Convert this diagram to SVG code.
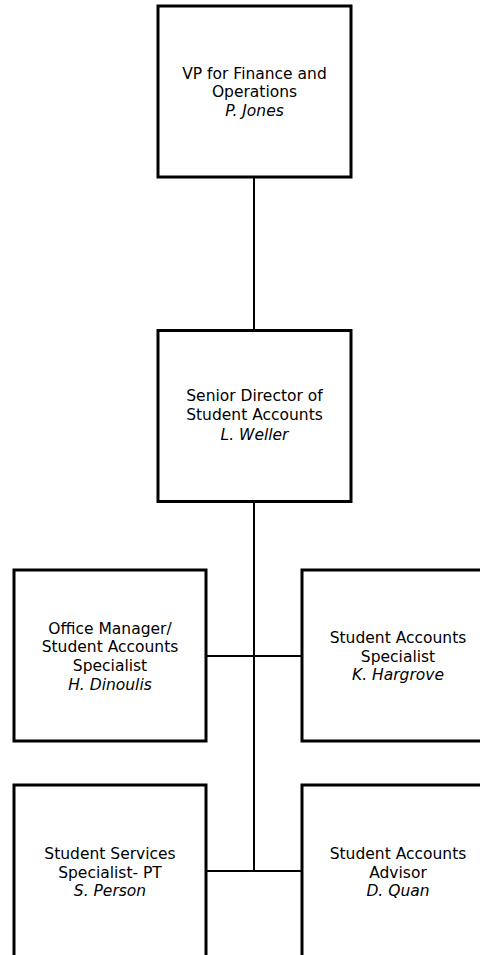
<svg xmlns="http://www.w3.org/2000/svg" width="480" height="955" viewBox="0 0 480 955">
<style>
.box{fill:#fff;stroke:#000;stroke-width:3}
.t{font-family:"DejaVu Sans",Verdana,sans-serif;font-size:15.5px;fill:#000;text-anchor:middle}
.i{font-style:italic}
.c{stroke:#000;stroke-width:2;fill:none}
</style>
<rect width="480" height="955" fill="#fff"/>
<g id="connectors">
<line class="c" x1="254" y1="177" x2="254" y2="331"/>
<line class="c" x1="254" y1="501" x2="254" y2="872"/>
<line class="c" x1="206" y1="656" x2="302" y2="656"/>
<line class="c" x1="206" y1="871" x2="302" y2="871"/>
</g>
<g id="vp">
<rect class="box" x="158" y="6" width="193" height="171"/>
<text class="t" x="254.5" y="79">VP for Finance and</text>
<text class="t" x="254.5" y="97">Operations</text>
<text class="t i" x="254.5" y="116">P. Jones</text>
</g>
<g id="senior">
<rect class="box" x="158" y="330.5" width="193" height="171"/>
<text class="t" x="254.5" y="401">Senior Director of</text>
<text class="t" x="254.5" y="420">Student Accounts</text>
<text class="t i" x="254.5" y="440">L. Weller</text>
</g>
<g id="office">
<rect class="box" x="14" y="570" width="192" height="171"/>
<text class="t" x="110" y="634">Office Manager/</text>
<text class="t" x="110" y="652">Student Accounts</text>
<text class="t" x="110" y="671">Specialist</text>
<text class="t i" x="110" y="690">H. Dinoulis</text>
</g>
<g id="hargrove">
<rect class="box" x="302" y="570" width="192" height="171"/>
<text class="t" x="398" y="643">Student Accounts</text>
<text class="t" x="398" y="661.5">Specialist</text>
<text class="t i" x="398" y="680">K. Hargrove</text>
</g>
<g id="person">
<rect class="box" x="14" y="785" width="192" height="172"/>
<text class="t" x="110" y="859">Student Services</text>
<text class="t" x="110" y="877.5">Specialist- PT</text>
<text class="t i" x="110" y="896">S. Person</text>
</g>
<g id="quan">
<rect class="box" x="302" y="785" width="192" height="172"/>
<text class="t" x="398" y="859">Student Accounts</text>
<text class="t" x="398" y="877.5">Advisor</text>
<text class="t i" x="398" y="896">D. Quan</text>
</g>
</svg>
